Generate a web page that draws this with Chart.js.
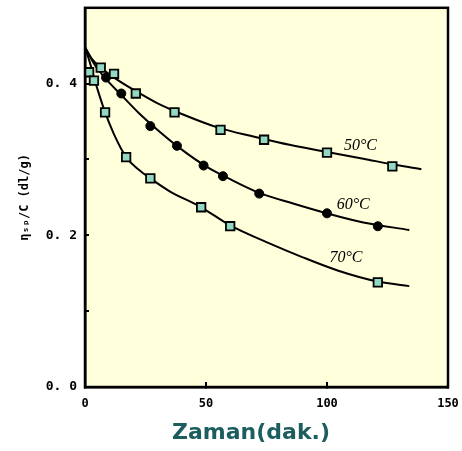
<!DOCTYPE html>
<html>
<head>
<meta charset="utf-8">
<script src="https://cdn.jsdelivr.net/npm/chart.js@4.4.1/dist/chart.umd.min.js"></script>
<style>
  html, body { margin: 0; padding: 0; background: #ffffff; }
  #wrap { width: 462px; height: 451px; position: relative; }
</style>
</head>
<body>
<div id="wrap"><canvas id="c" width="462" height="451"></canvas></div>
<script>
// ---- data ----
const seriesNames = ['50°C', '60°C', '70°C'];

// measured points
const s50T = [6.5, 12, 21, 37, 56, 74, 100, 127];
const s50V = [0.421, 0.413, 0.387, 0.362, 0.339, 0.326, 0.309, 0.291];
const s60T = [8.7, 15, 27, 38, 49, 57, 72, 100, 121];
const s60V = [0.408, 0.387, 0.344, 0.318, 0.292, 0.278, 0.255, 0.229, 0.212];
const s70T = [1.7, 3.7, 8.3, 17, 27, 48, 60, 121];
const s70V = [0.415, 0.404, 0.362, 0.303, 0.275, 0.237, 0.212, 0.138];

// fitted curves
const c50T = [0, 3, 7, 12, 20, 30, 40, 55, 70, 85, 100, 115, 128, 139];
const c50V = [0.448, 0.432, 0.420, 0.408, 0.392, 0.374, 0.360, 0.342, 0.330, 0.319, 0.310, 0.301, 0.293, 0.287];
const c60T = [0, 4, 9, 15, 22, 30, 40, 50, 60, 72, 86, 100, 115, 134];
const c60V = [0.448, 0.425, 0.405, 0.385, 0.362, 0.339, 0.313, 0.291, 0.274, 0.256, 0.242, 0.229, 0.217, 0.207];
const c70T = [0, 2, 4, 8, 12, 17, 22, 27, 35, 48, 60, 75, 90, 105, 121, 134];
const c70V = [0.448, 0.428, 0.405, 0.365, 0.333, 0.303, 0.287, 0.275, 0.258, 0.237, 0.213, 0.191, 0.171, 0.153, 0.139, 0.133];

// tick labels
const xTickLabels = ['0', '50', '100', '150'];
const yTickLabels = ['0. 0', '0. 2', '0. 4'];
const yLabeledTicks = [0, 0.2, 0.4];
const xTitle = 'Zaman(dak.)';
const yTitle = 'η\u209B\u209A/C (dl/g)';

// ---- helpers ----
const pts = (t, v) => t.map((x, i) => ({ x: x, y: v[i] }));

const MARK_FILL = '#93d9c2';
const PLOT_BG = '#ffffdc';

const labelSpots = [
  { text: seriesNames[0], x: 107, y: 0.318 },
  { text: seriesNames[1], x: 104, y: 0.240 },
  { text: seriesNames[2], x: 101, y: 0.171 }
];

const framePlugin = {
  id: 'frame',
  beforeDraw(chart) {
    const { ctx, chartArea: a } = chart;
    ctx.save();
    ctx.fillStyle = PLOT_BG;
    ctx.fillRect(a.left, a.top, a.right - a.left, a.bottom - a.top);
    ctx.restore();
  },
  afterDraw(chart) {
    const { ctx, chartArea: a, scales } = chart;
    ctx.save();
    ctx.strokeStyle = '#000';
    ctx.lineWidth = 2.5;
    ctx.strokeRect(a.left, a.top, a.right - a.left, a.bottom - a.top);
    ctx.fillStyle = '#000';
    ctx.font = 'italic 16px "Liberation Serif", serif';
    ctx.textBaseline = 'middle';
    ctx.textAlign = 'left';
    labelSpots.forEach(l => {
      ctx.fillText(l.text, scales.x.getPixelForValue(l.x), scales.y.getPixelForValue(l.y));
    });
    // x-axis title (offset left of the plot centre, as in the reference)
    ctx.fillStyle = '#1c5e5e';
    ctx.font = 'bold 22px "DejaVu Sans", sans-serif';
    ctx.textAlign = 'center';
    ctx.fillText(xTitle, 251, 433);
    ctx.restore();
  }
};

const curveDs = (t, v) => ({
  type: 'line',
  data: pts(t, v),
  borderColor: '#000',
  borderWidth: 2,
  pointRadius: 0,
  fill: false,
  cubicInterpolationMode: 'monotone',
  showLine: true
});

const squareDs = (t, v) => ({
  data: pts(t, v),
  pointStyle: 'rect',
  pointRadius: 6,
  pointBackgroundColor: MARK_FILL,
  pointBorderColor: '#000',
  pointBorderWidth: 1.8,
  showLine: false
});

new Chart(document.getElementById('c'), {
  type: 'scatter',
  data: {
    datasets: [
      squareDs(s50T, s50V),
      {
        data: pts(s60T, s60V),
        pointStyle: 'circle',
        pointRadius: 4.5,
        pointBackgroundColor: '#000',
        pointBorderColor: '#000',
        pointBorderWidth: 1,
        showLine: false
      },
      squareDs(s70T, s70V),
      curveDs(c50T, c50V),
      curveDs(c60T, c60V),
      curveDs(c70T, c70V)
    ]
  },
  options: {
    responsive: false,
    animation: false,
    events: [],
    layout: { padding: { top: 4, right: 14, left: 0, bottom: 0 } },
    plugins: { legend: { display: false }, tooltip: { enabled: false }, title: { display: false } },
    scales: {
      x: {
        type: 'linear',
        min: 0, max: 150,
        border: { display: true, color: '#000', width: 2.5 },
        grid: { drawOnChartArea: false, drawTicks: true, tickLength: -5, color: '#000', lineWidth: 2 },
        ticks: {
          stepSize: 50,
          padding: 15,
          color: '#000',
          font: { family: '"DejaVu Sans Mono", monospace', size: 12, weight: 'bold' },
          callback: (v) => xTickLabels[Math.round(v / 50)] ?? ''
        },
        title: { display: false },
        afterFit(s) { s.height = 64; s.paddingLeft = 0; s.paddingRight = 0; }
      },
      y: {
        type: 'linear',
        min: 0, max: 0.5,
        border: { display: true, color: '#000', width: 2.5 },
        grid: { drawOnChartArea: false, drawTicks: true, tickLength: -4, color: '#000', lineWidth: 2 },
        ticks: {
          stepSize: 0.1,
          padding: 12,
          color: '#000',
          font: { family: '"DejaVu Sans Mono", monospace', size: 13, weight: 'bold' },
          callback: (v) => {
            const i = yLabeledTicks.findIndex(t => Math.abs(t - v) < 1e-6);
            return i >= 0 ? yTickLabels[i] : '';
          }
        },
        title: {
          display: true,
          text: yTitle,
          color: '#000',
          font: { family: '"DejaVu Sans Mono", monospace', size: 12, weight: 'bold' },
          padding: { top: 18, bottom: 0 }
        },
        afterFit(s) { s.width = 85; s.paddingTop = 0; s.paddingBottom = 0; }
      }
    }
  },
  plugins: [framePlugin]
});
</script>
</body>
</html>
